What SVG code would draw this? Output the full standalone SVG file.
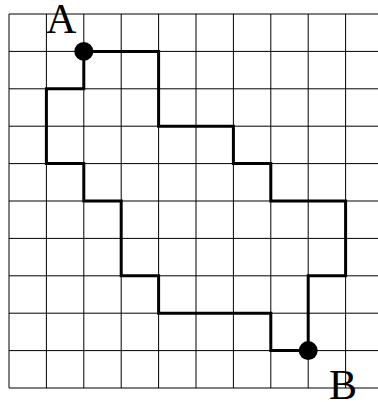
<svg xmlns="http://www.w3.org/2000/svg" width="378" height="402" viewBox="0 0 378 402">
<style>
.grid line{stroke:#000;stroke-width:1}
.path{fill:none;stroke:#000;stroke-width:3;stroke-linejoin:miter;stroke-linecap:square}
.dot{fill:#000}
.lbl{font-family:"Liberation Serif","Times New Roman",serif;font-size:42px;fill:#000}
</style>
<rect width="378" height="402" fill="#fff"/>
<g id="grid" class="grid">
<line x1="9" y1="14" x2="378" y2="14"/>
<line x1="9" y1="51.4" x2="378" y2="51.4"/>
<line x1="9" y1="88.8" x2="378" y2="88.8"/>
<line x1="9" y1="126.2" x2="378" y2="126.2"/>
<line x1="9" y1="163.6" x2="378" y2="163.6"/>
<line x1="9" y1="201" x2="378" y2="201"/>
<line x1="9" y1="238.4" x2="378" y2="238.4"/>
<line x1="9" y1="275.8" x2="378" y2="275.8"/>
<line x1="9" y1="313.2" x2="378" y2="313.2"/>
<line x1="9" y1="350.6" x2="378" y2="350.6"/>
<line x1="9" y1="388" x2="378" y2="388"/>
<line x1="9" y1="14" x2="9" y2="388"/>
<line x1="46.4" y1="14" x2="46.4" y2="388"/>
<line x1="83.8" y1="14" x2="83.8" y2="388"/>
<line x1="121.2" y1="14" x2="121.2" y2="388"/>
<line x1="158.6" y1="14" x2="158.6" y2="388"/>
<line x1="196" y1="14" x2="196" y2="388"/>
<line x1="233.4" y1="14" x2="233.4" y2="388"/>
<line x1="270.8" y1="14" x2="270.8" y2="388"/>
<line x1="308.2" y1="14" x2="308.2" y2="388"/>
<line x1="345.6" y1="14" x2="345.6" y2="388"/>
</g>
<g id="connectors">
<path class="path" d="M83.8,51.4 H158.6 V126.2 H233.4 V163.6 H270.8 V201 H345.6 V275.8 H308.2 V350.6 H270.8 V313.2 H158.6 V275.8 H121.2 V201 H83.8 V163.6 H46.4 V88.8 H83.8 Z"/>
</g>
<g id="nodeA">
<circle class="dot" cx="83.8" cy="51.4" r="9.5"/>
<text class="lbl" x="46" y="33">A</text>
</g>
<g id="nodeB">
<circle class="dot" cx="308.2" cy="350.6" r="9.5"/>
<text class="lbl" x="329" y="399">B</text>
</g>
</svg>
